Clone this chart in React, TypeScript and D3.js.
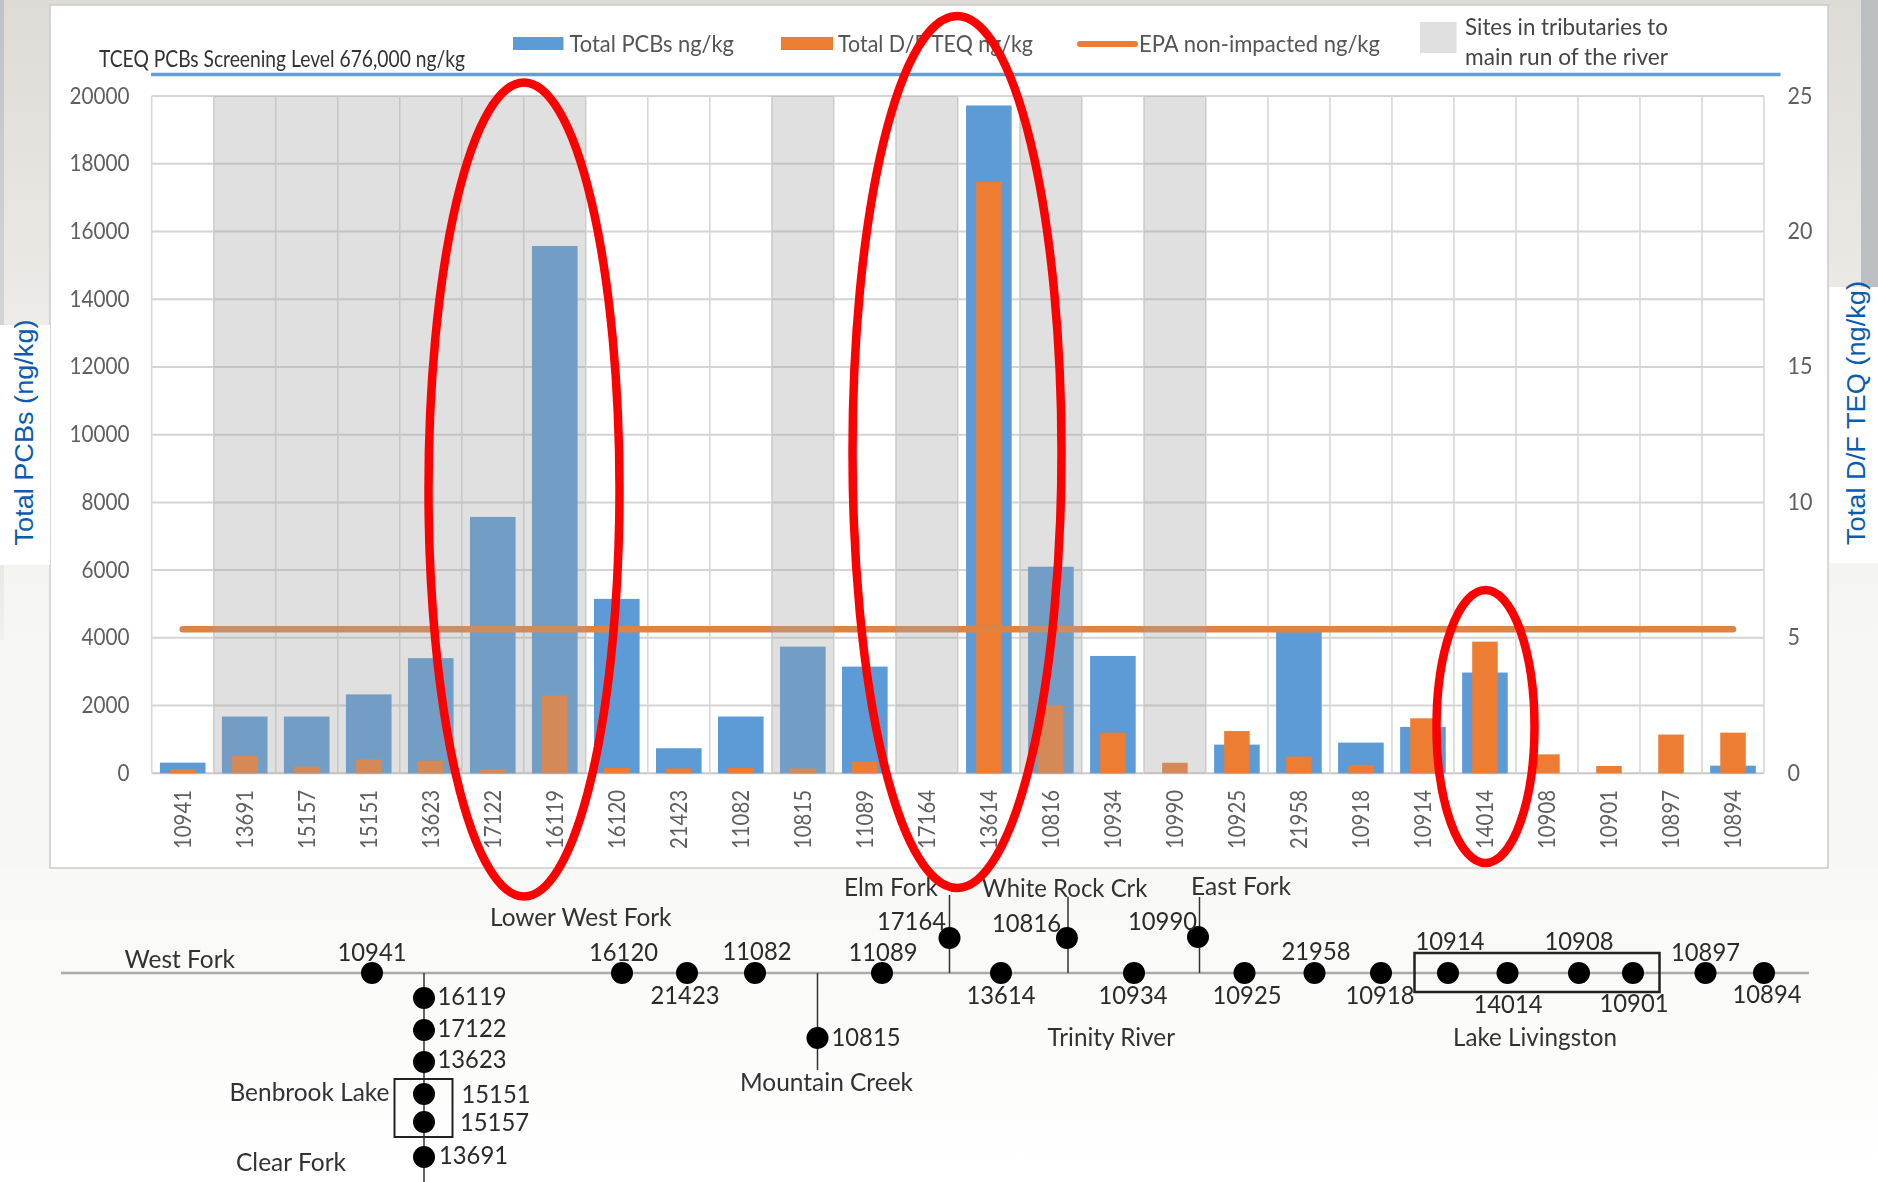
import React from "react";
import * as d3 from "d3";

const W = 1878, H = 1182;

// ---------- chart data ----------
const sites = ["10941","13691","15157","15151","13623","17122","16119","16120","21423","11082","10815","11089","17164","13614","10816","10934","10990","10925","21958","10918","10914","14014","10908","10901","10897","10894"];
const totalPCBs = [315,1675,1675,2330,3400,7570,15570,5150,740,1675,3740,3150,0,19720,6100,3465,0,847,4220,906,1370,2975,0,0,0,225];
const totalDF = [0.16,0.64,0.25,0.52,0.47,0.15,2.87,0.2,0.18,0.2,0.18,0.43,0,21.84,2.51,1.5,0.39,1.56,0.62,0.31,2.03,4.86,0.7,0.27,1.43,1.5];
const epaNonImpacted = 5.32;
const tributarySites = ["13691","15157","15151","13623","17122","16119","10815","17164","10816","10990"];
const leftTicks = d3.range(0, 20001, 2000);
const rightTicks = [0, 5, 10, 15, 20, 25];

// ---------- river schematic ----------
type St = [string, number, number, number, number, string?];
const mainStations: St[] = [
  ["10941",372,973,372,952],["16120",622,973,623.5,952],["21423",687,973,685,995],["11082",755,973,757,951],
  ["11089",882,973,883,952],["13614",1001,973,1001,995],["10934",1134,973,1133,995],["10925",1244.5,973,1247,995],
  ["21958",1314.5,973,1316,951],["10918",1381,973,1380,995],["10914",1448,973,1450,941],["14014",1507.5,973,1508,1004],
  ["10908",1579,973,1579,941],["10901",1633,973,1634,1003],["10897",1705.5,973,1705.5,952],["10894",1764,973,1767,994],
];
const branchStations: St[] = [
  ["16119",424,998,437.5,996,"start"],["17122",424,1030,437.5,1028,"start"],["13623",424,1062,437.5,1059,"start"],
  ["15151",424,1094,461.5,1094,"start"],["15157",424,1122,460,1122,"start"],["13691",424,1157,439,1155,"start"],
  ["10815",817.5,1038,831.5,1037,"start"],["17164",949.5,938,946,921,"end"],["10816",1067,938,1061,923,"end"],["10990",1198,937,1197,921,"end"],
];
const branchLines: [number, number, number][] = [[424,973,1182],[817.5,973,1070],[949.5,895,973],[1068,897,973],[1199.5,897,973]];
const boxes: [number, number, number, number, number][] = [[394.5,1079,452.5,1137,2],[1414.5,953,1659.5,992,2.5]];
const placeLabels: [string, number, number, number][] = [
  ["West Fork",124.5,235,959],["Lower West Fork",490,671.5,917],["Benbrook Lake",229.5,389.5,1092],["Clear Fork",236,346,1162],
  ["Mountain Creek",740,913,1082],["Elm Fork",844,938,887],["White Rock Crk",982,1147.5,888],["East Fork",1191,1291,886],
  ["Trinity River",1047.5,1175,1037],["Lake Livingston",1453,1617,1037],
];

// ---------- annotation ellipses ----------
const redEllipses: [number, number, number, number][] = [[524,489.5,95.5,407],[957,452,104.5,436],[1485.5,726.5,49,136.5]];

const plot = { left: 151.7, right: 1764, top: 96, bottom: 773.3 };
const x = d3.scaleBand<string>().domain(sites).range([plot.left, plot.right]);
const yL = d3.scaleLinear().domain([0, 20000]).range([plot.bottom, plot.top]);
const yR = d3.scaleLinear().domain([0, 25]).range([plot.bottom, plot.top]);
const cx = (s: string) => (x(s) as number) + x.bandwidth() / 2;

const SANS = "Lato, 'Open Sans', sans-serif";
const BLUE = "#5b9bd5", ORANGE = "#ed7d31", GRID = "#d4d4d4";

function FitText({ x: tx, y, w, children, size = 24, fill = "#333", anchor = "start" }: any) {
  return (
    <text x={tx} y={y} dy="0.35em" fontFamily={SANS} fontSize={size} fill={fill} textAnchor={anchor}
      textLength={w} lengthAdjust="spacingAndGlyphs">{children}</text>
  );
}

export default function App() {
  const barW = 45.6, orW = 25.5;
  return (
    <svg width={W} height={H} viewBox={`0 0 ${W} ${H}`} style={{ position: "absolute", left: 0, top: 0, display: "block" }}>
      <defs>
        <linearGradient id="stripBg" x1="0" x2="0" y1="0" y2="1">
          <stop offset="0" stopColor="#dedbd6" /><stop offset="0.5" stopColor="#ecebe7" /><stop offset="1" stopColor="#f7f7f5" />
        </linearGradient>
        <linearGradient id="lowBg" x1="0" x2="0" y1="0" y2="1">
          <stop offset="0" stopColor="#f8f8f6" /><stop offset="1" stopColor="#ffffff" />
        </linearGradient>
        <linearGradient id="edgeL" x1="0" x2="0" y1="0" y2="1">
          <stop offset="0" stopColor="#c0c3c6" /><stop offset="0.6" stopColor="#d6d7d7" /><stop offset="1" stopColor="#f0f0ee" />
        </linearGradient>
        <filter id="soft" filterUnits="userSpaceOnUse" x={0} y={0} width={W} height={H}>
          <feGaussianBlur stdDeviation={0.6} />
        </filter>
      </defs>
      <rect width={W} height={H} fill="#fff" />
      <rect x={0} y={868} width={W} height={H - 868} fill="url(#lowBg)" />
      <rect x={0} y={0} width={W} height={640} fill="url(#stripBg)" />
      <rect x={0} y={640} width={W} height={228} fill="#f7f7f5" />
      <rect x={0} y={0} width={4} height={640} fill="url(#edgeL)" />
      <rect x={1861} y={0} width={17} height={290} fill="#bcbfc2" />
      {/* panel */}
      <rect x={50} y={5} width={1778} height={863} fill="#fff" stroke="#cbcbcb" strokeWidth={1.5} />
      {/* axis title boxes */}
      <rect x={0} y={325} width={50} height={240} fill="#fff" />
      <rect x={1829.5} y={287} width={48.5} height={276} fill="#fff" />
      <text transform="translate(24,432.5) rotate(-90)" dy="0.35em" textAnchor="middle" fontFamily="'Liberation Sans', Arial, sans-serif" fontSize={25} fill="#0b5cad" textLength={226} lengthAdjust="spacingAndGlyphs">Total PCBs (ng/kg)</text>
      <text transform="translate(1856,413) rotate(-90)" dy="0.35em" textAnchor="middle" fontFamily="'Liberation Sans', Arial, sans-serif" fontSize={25} fill="#0b5cad" textLength={264} lengthAdjust="spacingAndGlyphs">Total D/F TEQ (ng/kg)</text>

      <g filter="url(#soft)">
        {/* grid */}
        {leftTicks.map(t => (
          <line key={t} x1={plot.left} x2={plot.right} y1={yL(t)} y2={yL(t)} stroke={t === 0 ? "#c8c8c8" : GRID} strokeWidth={2} />
        ))}
        {[...sites.map(s => x(s) as number), plot.right].map((gx, i) => (
          <line key={i} x1={gx} x2={gx} y1={plot.top} y2={plot.bottom} stroke="#d8d8d8" strokeWidth={1.6} />
        ))}

        {/* bars */}
        {sites.map((s, i) => totalPCBs[i] > 0 && (
          <rect key={s} x={cx(s) - barW / 2} width={barW} y={yL(totalPCBs[i])} height={plot.bottom - yL(totalPCBs[i])} fill={BLUE} />
        ))}
        {sites.map((s, i) => (
          <rect key={s} x={cx(s) - orW / 2} width={orW} y={yR(totalDF[i])} height={plot.bottom - yR(totalDF[i])} fill={ORANGE} />
        ))}
        {/* EPA line */}
        <line x1={cx(sites[0])} x2={cx(sites[sites.length - 1])} y1={yR(epaNonImpacted)} y2={yR(epaNonImpacted)} stroke="#de8443" strokeWidth={6.5} strokeLinecap="round" />
        {/* tributary shading lies over the marks */}
        {tributarySites.map(s => (
          <rect key={s} x={x(s)} width={x.bandwidth()} y={plot.top} height={plot.bottom - plot.top} fill="#a2a2a2" fillOpacity={0.335} />
        ))}

        {/* axes */}
        {leftTicks.map(t => (
          <FitText key={t} x={129.5} y={yL(t) - 0.5} anchor="end" fill="#5f5f5f" size={23} w={String(t).length * 12}>{t}</FitText>
        ))}
        {rightTicks.map(t => (
          <FitText key={t} x={1787.5} y={yR(t) - 0.5} fill="#5f5f5f" size={23} w={String(t).length * 12.5}>{t}</FitText>
        ))}
        {sites.map(s => (
          <text key={s} transform={`translate(${cx(s)},849) rotate(-90)`} dy="0.35em" fontFamily={SANS} fontSize={24} fill="#5f5f5f"
            textLength={59} lengthAdjust="spacingAndGlyphs">{s}</text>
        ))}

        {/* legend */}
        <line x1={151} x2={1780.5} y1={74.5} y2={74.5} stroke="#649fd6" strokeWidth={3.5} />
        <FitText x={99} y={58.5} w={366}>TCEQ PCBs Screening Level 676,000 ng/kg</FitText>
        <rect x={513} y={37} width={50.5} height={13} fill={BLUE} />
        <FitText x={569.5} y={43.5} w={164.5} fill="#555">Total PCBs ng/kg</FitText>
        <rect x={781} y={37} width={52} height={13} fill={ORANGE} />
        <FitText x={838} y={43.5} w={195} fill="#555">Total D/F TEQ ng/kg</FitText>
        <line x1={1080} x2={1135} y1={44} y2={44} stroke={ORANGE} strokeWidth={6} strokeLinecap="round" />
        <FitText x={1139} y={43.5} w={241} fill="#555">EPA non-impacted ng/kg</FitText>
        <rect x={1420} y={22} width={36.5} height={31} fill="#e0e0e0" />
        <FitText x={1465} y={27} w={203} fill="#444">Sites in tributaries to</FitText>
        <FitText x={1465} y={57} w={203} fill="#444">main run of the river</FitText>

        {/* river schematic */}
        <line x1={61} x2={1809} y1={973} y2={973} stroke="#aaa" strokeWidth={2.5} />
        {branchLines.map(([lx, y1, y2], i) => (
          <line key={i} x1={lx} x2={lx} y1={y1} y2={y2} stroke="#333" strokeWidth={1.5} />
        ))}
        {boxes.map(([x1, y1, x2, y2, sw], i) => (
          <rect key={i} x={x1} y={y1} width={x2 - x1} height={y2 - y1} fill="none" stroke="#222" strokeWidth={sw} />
        ))}
        {[...mainStations, ...branchStations].map(([name, sx, sy, lx, ly, a]) => (
          <g key={name}>
            <circle cx={sx} cy={sy} r={11} fill="#000" />
            <FitText x={lx} y={ly} w={69} size={25} anchor={a || "middle"} fill="#2a2a2a">{name}</FitText>
          </g>
        ))}
        {placeLabels.map(([t, x1, x2, py]) => (
          <FitText key={t} x={x1} y={py} w={x2 - x1} size={25} fill="#333">{t}</FitText>
        ))}
      </g>

      {/* annotation ellipses */}
      {redEllipses.map(([ex, ey, rx, ry], i) => (
        <ellipse key={i} cx={ex} cy={ey} rx={rx} ry={ry} fill="none" stroke="#ff0000" strokeWidth={8.5} />
      ))}
    </svg>
  );
}
